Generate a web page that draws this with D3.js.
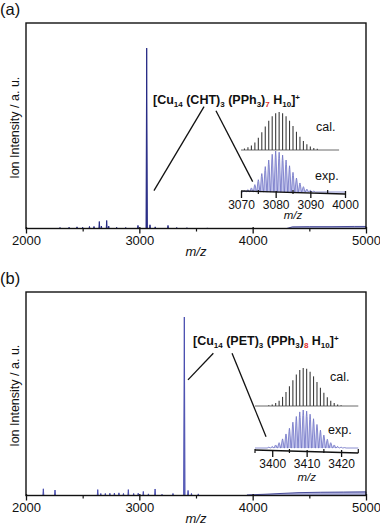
<!DOCTYPE html>
<html>
<head>
<meta charset="utf-8">
<script src="https://cdn.jsdelivr.net/npm/d3@7"></script>
<style>
  body { margin: 0; background: #fff; }
  text { font-family: "Liberation Sans", Arial, sans-serif; }
</style>
</head>
<body>
<div id="chart"></div>
<script>
// ---- data ----
const mainTicks = [2000, 3000, 4000, 5000];
const mainMinorTicks = [2500, 3500, 4500];

// panel (a): survey spectrum peaks (m/z, relative intensity)
const peaksA_mz  = [2300, 2380, 2450, 2500, 2560, 2600, 2647, 2665, 2712, 2730, 2800, 2880, 2988, 3065, 3094, 3140, 3253, 3330, 3420, 3600];
const peaksA_int = [0.5, 0.6, 0.8, 0.6, 1.0, 1.0, 3.4, 1.2, 3.9, 1.2, 0.6, 0.5, 1.5, 87.8, 1.8, 0.8, 1.5, 0.5, 0.4, 0.3];
const tailA_mz  = [4300, 4350, 4500, 4700, 4900, 5000];
const tailA_int = [0, 0.8, 0.9, 0.9, 1.0, 1.0];

// panel (b)
const peaksB_mz  = [2153, 2256, 2633, 2660, 2700, 2740, 2780, 2820, 2860, 2903, 2950, 2990, 3035, 3080, 3139, 3200, 3297, 3397, 3430, 3460, 3520];
const peaksB_int = [3.3, 2.7, 2.9, 1.0, 1.0, 1.1, 1.2, 1.3, 1.0, 2.9, 1.0, 1.1, 2.0, 0.8, 3.2, 0.6, 1.0, 87.7, 2.5, 1.0, 0.8];
const tailB_mz  = [3950, 4100, 4250, 4400, 4600, 4800, 5000];
const tailB_int = [0.3, 0.6, 1.0, 1.4, 1.6, 1.7, 1.8];

// isotope patterns in the insets
const insetA_ticks = [3070, 3080, 3090, 3100];
const insetA_tickLabels = ["3070", "3080", "3090", "4000"];
const insetA_minor = [3075, 3085, 3095];
const calA_mz  = [3071, 3072, 3073, 3074, 3075, 3076, 3077, 3078, 3079, 3080, 3081, 3082, 3083, 3084, 3085, 3086, 3087, 3088, 3089, 3090, 3091, 3092];
const calA_int = [4, 7, 12, 20, 32, 47, 62, 77, 89, 97, 100, 97, 89, 77, 63, 48, 35, 24, 15, 9, 5, 3];
const expA_mz  = [3071, 3072, 3073, 3074, 3075, 3076, 3077, 3078, 3079, 3080, 3081, 3082, 3083, 3084, 3085, 3086, 3087, 3088, 3089, 3090, 3091];
const expA_int = [3, 6, 10, 18, 30, 45, 62, 78, 92, 100, 97, 90, 78, 64, 48, 34, 22, 13, 7, 4, 2];

const insetB_ticks = [3400, 3410, 3420];
const insetB_tickLabels = ["3400", "3410", "3420"];
const insetB_minor = [3395, 3405, 3415, 3425];
const calB_mz  = [3399, 3400, 3401, 3402, 3403, 3404, 3405, 3406, 3407, 3408, 3409, 3410, 3411, 3412, 3413, 3414, 3415, 3416, 3417, 3418, 3419, 3420];
const calB_int = [2, 4, 8, 14, 24, 37, 52, 68, 83, 95, 100, 98, 90, 78, 63, 48, 35, 23, 14, 8, 4, 2];
const expB_mz  = [3399, 3400, 3401, 3402, 3403, 3404, 3405, 3406, 3407, 3408, 3409, 3410, 3411, 3412, 3413, 3414, 3415, 3416, 3417, 3418, 3419, 3420, 3421];
const expB_int = [2, 4, 8, 14, 24, 37, 52, 68, 83, 95, 100, 97, 89, 77, 62, 47, 34, 23, 14, 8, 4, 2, 1];

const W = 380, H = 526;
const svg = d3.select("#chart").append("svg")
    .attr("width", W).attr("height", H);

const navy = "#262a85";

function drawPanel(p) {
    const x = d3.scaleLinear().domain([2000, 5000]).range([26, 366]);
    const y = d3.scaleLinear().domain([0, 100]).range([p.bottom, p.top]);

    // spectrum as thin spikes
    const pts = [[2000, 0]];
    p.mz.forEach((m, i) => {
        const w = p.int[i] > 20 ? 6 : 4;
        pts.push([m - w, 0], [m, p.int[i]], [m + w, 0]);
    });
    pts.push([5000, 0]);
    svg.append("path")
        .attr("d", d3.line().x(d => x(d[0])).y(d => y(d[1]))(pts))
        .attr("fill", p.peakFill)
        .attr("stroke", p.peakColor)
        .attr("stroke-width", 1);

    // raised baseline at high m/z
    const tail = p.tailMz.map((m, i) => [m, p.tailInt[i]]);
    svg.append("path")
        .attr("d", d3.area().x(d => x(d[0])).y0(y(0)).y1(d => y(d[1]))(tail))
        .attr("fill", "#a9acd9")
        .attr("stroke", navy)
        .attr("stroke-width", 0.8);

    // frame
    svg.append("rect")
        .attr("x", 26).attr("y", p.top)
        .attr("width", 340).attr("height", p.bottom - p.top)
        .attr("fill", "none").attr("stroke", "#111").attr("stroke-width", 1.4);

    // axis
    const ax = svg.append("g")
        .attr("transform", `translate(0,${p.bottom})`)
        .call(d3.axisBottom(x).tickValues(mainTicks).tickSize(5).tickPadding(2.5).tickFormat(d3.format("d")));
    ax.select(".domain").remove();
    ax.selectAll("line").attr("stroke", "#111").attr("stroke-width", 1.3).attr("y1", -1.5);
    ax.selectAll("text").attr("font-size", 13).attr("fill", "#111")
        .style("font-family", '"Liberation Sans", Arial, sans-serif');

    const mx = svg.append("g")
        .attr("transform", `translate(0,${p.bottom})`)
        .call(d3.axisBottom(x).tickValues(mainMinorTicks).tickSize(3).tickFormat(""));
    mx.select(".domain").remove();
    mx.selectAll("line").attr("stroke", "#111").attr("stroke-width", 1.2);

    // axis titles
    svg.append("text")
        .attr("x", 196).attr("y", p.bottom + 27)
        .attr("text-anchor", "middle")
        .attr("font-size", 13).attr("font-style", "italic").attr("fill", "#111")
        .text("m/z");
    svg.append("text")
        .attr("transform", `translate(19,${(p.top + p.bottom) / 2 + 2}) rotate(-90)`)
        .attr("text-anchor", "middle")
        .attr("font-size", 12.5).attr("fill", "#111")
        .text("Ion Intensity / a. u.");
    svg.append("text")
        .attr("x", 0).attr("y", p.top - 8)
        .attr("font-size", 16.5).attr("fill", "#111")
        .text(p.label);

    // formula
    const f = svg.append("text")
        .attr("x", p.fx).attr("y", p.fy)
        .attr("font-size", 12.5).attr("font-weight", "bold").attr("fill", "#111");
    p.formula.forEach(s => {
        const t = f.append("tspan").text(s.t);
        if (s.sub) t.attr("font-size", 8).attr("baseline-shift", "-2.5");
        if (s.sup) t.attr("font-size", 8).attr("baseline-shift", "4");
        if (s.red) t.attr("fill", "#e0302a");
    });

    // leader lines (data coordinates)
    p.leaders.forEach(l => {
        svg.append("line")
            .attr("x1", x(l[0])).attr("y1", y(l[1]))
            .attr("x2", x(l[2])).attr("y2", y(l[3]))
            .attr("stroke", "#111").attr("stroke-width", 1.3);
    });

    drawInset(p.inset);
}

function drawInset(q) {
    const x = d3.scaleLinear().domain(q.domain).range(q.range);
    const yc = d3.scaleLinear().domain([0, 100]).range([q.calBase, q.calTop]);
    const ye = d3.scaleLinear().domain([0, 100]).range([q.expBase, q.expTop]);

    // calculated: stick lines + baseline
    svg.append("line")
        .attr("x1", x(q.domain[0])).attr("x2", x(q.calEnd))
        .attr("y1", yc(0)).attr("y2", yc(0))
        .attr("stroke", "#6b6b6b").attr("stroke-width", 1);
    svg.selectAll(null).data(q.calMz).enter().append("line")
        .attr("x1", d => x(d)).attr("x2", d => x(d))
        .attr("y1", yc(0)).attr("y2", (d, i) => yc(q.calInt[i]))
        .attr("stroke", "#3c3c3c").attr("stroke-width", 1.1);

    // experimental: profile peaks
    const pts = [[q.domain[0], 0]];
    q.expMz.forEach((m, i) => {
        pts.push([m - 0.45, 0], [m - 0.12, q.expInt[i] * 0.85], [m, q.expInt[i]], [m + 0.12, q.expInt[i] * 0.85], [m + 0.45, 0]);
    });
    pts.push([q.domain[1], 0]);
    svg.append("path")
        .attr("d", d3.line().x(d => x(d[0])).y(d => ye(d[1]))(pts))
        .attr("fill", "#c3c5ec")
        .attr("stroke", "#6d71c4")
        .attr("stroke-width", 0.8);

    // axis
    const g = svg.append("g").attr("transform", `translate(0,${q.axisY})`);
    g.append("line")
        .attr("x1", x(q.domain[0])).attr("x2", x(q.domain[1]))
        .attr("stroke", "#111").attr("stroke-width", 1.3);
    const ax = g.call(d3.axisBottom(x).tickValues(q.ticks).tickSize(4).tickPadding(2)
        .tickFormat((d, i) => q.tickLabels[i]));
    ax.select(".domain").remove();
    ax.selectAll("line").attr("stroke", "#111").attr("stroke-width", 1.3).attr("y1", -3);
    ax.selectAll("text").attr("font-size", 12).attr("fill", "#111")
        .style("font-family", '"Liberation Sans", Arial, sans-serif');
    g.selectAll(".minor").data(q.minor).enter().append("line")
        .attr("class", "minor")
        .attr("x1", d => x(d)).attr("x2", d => x(d))
        .attr("y1", -4).attr("y2", 0)
        .attr("stroke", "#111").attr("stroke-width", 1.2);

    svg.append("text")
        .attr("x", x(q.mzAt)).attr("y", q.axisY + q.mzDy)
        .attr("text-anchor", "middle").attr("font-size", 11.5)
        .attr("font-style", "italic").attr("fill", "#111").text("m/z");
    svg.append("text")
        .attr("x", q.calText[0]).attr("y", q.calText[1])
        .attr("font-size", 12.5).attr("fill", "#111").text("cal.");
    svg.append("text")
        .attr("x", q.expText[0]).attr("y", q.expText[1])
        .attr("font-size", 12.5).attr("fill", "#111").text("exp.");
}

drawPanel({
    label: "(a)", top: 23, bottom: 228.5,
    mz: peaksA_mz, int: peaksA_int, tailMz: tailA_mz, tailInt: tailA_int,
    peakColor: navy, peakFill: navy,
    fx: 153, fy: 104,
    formula: [
        { t: "[Cu" }, { t: "14", sub: true }, { t: " (CHT)" }, { t: "3", sub: true },
        { t: " (PPh" }, { t: "3", sub: true }, { t: ")" }, { t: "7", sub: true, red: true },
        { t: " H" }, { t: "10", sub: true }, { t: "]" }, { t: "+", sup: true }
    ],
    leaders: [[3571, 59.3, 3129, 18.4], [3676, 57.3, 4000, 22.8]],
    inset: {
        domain: [3070, 3100], range: [241, 345], axisY: 194,
        calBase: 150, calTop: 112, calEnd: 3098.3,
        expBase: 192, expTop: 151,
        calMz: calA_mz, calInt: calA_int, expMz: expA_mz, expInt: expA_int,
        ticks: insetA_ticks, tickLabels: insetA_tickLabels, minor: insetA_minor,
        mzAt: 3085, mzDy: 25,
        calText: [316, 131], expText: [315, 180]
    }
});

drawPanel({
    label: "(b)", top: 292, bottom: 495.5,
    mz: peaksB_mz, int: peaksB_int, tailMz: tailB_mz, tailInt: tailB_int,
    peakColor: "#4a4fb0", peakFill: "#6c70c4",
    fx: 193, fy: 345,
    formula: [
        { t: "[Cu" }, { t: "14", sub: true }, { t: " (PET)" }, { t: "3", sub: true },
        { t: " (PPh" }, { t: "3", sub: true }, { t: ")" }, { t: "8", sub: true, red: true },
        { t: " H" }, { t: "10", sub: true }, { t: "]" }, { t: "+", sup: true }
    ],
    leaders: [[3653, 69.9, 3429, 56.8], [3818, 69.9, 4118, 28.9]],
    inset: {
        domain: [3395, 3425], range: [255, 358.3], axisY: 453,
        calBase: 406, calTop: 368, calEnd: 3425,
        expBase: 448, expTop: 410,
        calMz: calB_mz, calInt: calB_int, expMz: expB_mz, expInt: expB_int,
        ticks: insetB_ticks, tickLabels: insetB_tickLabels, minor: insetB_minor,
        mzAt: 3410, mzDy: 28,
        calText: [330, 381], expText: [328, 434]
    }
});
</script>
</body>
</html>
